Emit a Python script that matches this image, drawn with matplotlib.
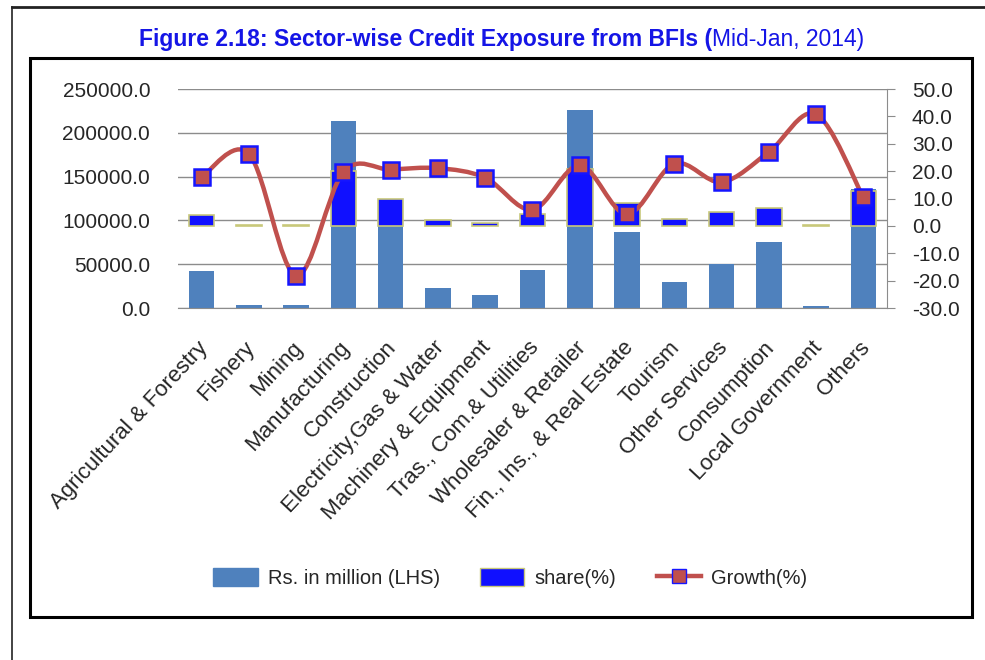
import numpy as np
import matplotlib
matplotlib.use('Agg')
import matplotlib.pyplot as plt
import matplotlib.transforms as mtransforms
from matplotlib.path import Path
from matplotlib.patches import PathPatch, Patch, Rectangle
from matplotlib.lines import Line2D

plt.rcParams['font.family'] = ['Liberation Sans', 'DejaVu Sans']

# data
sectors = ['Agricultural & Forestry', 'Fishery', 'Mining', 'Manufacturing',
           'Construction', 'Electricity,Gas & Water', 'Machinery & Equipment',
           'Tras., Com.& Utilities', 'Wholesaler & Retailer',
           'Fin., Ins., & Real Estate', 'Tourism', 'Other Services',
           'Consumption', 'Local Government', 'Others']
rs_million = [42000, 3800, 3800, 213700, 102000, 22900, 15300, 43100,
              225600, 87000, 29800, 50400, 75600, 1900, 136000]
share = [3.9, 0.35, 0.35, 19.9, 9.7, 2.1, 1.2, 4.3, 20.9, 8.4, 2.7, 4.9,
         6.4, 0.2, 12.9]
growth = [17.8, 26.4, -18.2, 19.7, 20.6, 21.1, 17.6, 5.9, 22.1, 4.3, 22.7,
          16.0, 27.0, 40.8, 10.4]

left_ticks = [0, 50000, 100000, 150000, 200000, 250000]
right_ticks = [-30, -20, -10, 0, 10, 20, 30, 40, 50]

c_rs = '#4f81bd'
c_share = '#1010ff'
c_growth = '#c0504d'
txt = '#262626'
grid_c = '#8c8c8c'

fig = plt.figure(figsize=(9.85, 6.6), dpi=100)
ax = fig.add_axes([0.1807, 0.5333, 0.7198, 0.3318])
ax2 = ax.twinx()

x = np.arange(len(sectors))
ax.bar(x, rs_million, width=0.54, color=c_rs, zorder=2)
ax.set_ylim(0, 250000)
ax.set_xlim(-0.5, len(sectors) - 0.5)
ax.set_yticks(left_ticks)
ax.set_yticklabels(['%.1f' % v for v in left_ticks], fontsize=15, color=txt)
ax.yaxis.grid(True, color=grid_c, lw=1)
ax.set_axisbelow(True)
ax.tick_params(axis='y', length=0, pad=20)
ax.tick_params(axis='x', length=0, pad=21)
ax.set_xticks(x)
ax.set_xticklabels(sectors, rotation=47, ha='right', va='top',
                   rotation_mode='anchor', fontsize=16, color=txt)
shift = mtransforms.ScaledTranslation(-5 / 100, 0, fig.dpi_scale_trans)
for lab in ax.get_xticklabels():
    lab.set_transform(lab.get_transform() + shift)
for s in ['top', 'left', 'right']:
    ax.spines[s].set_visible(False)
ax.spines['bottom'].set_color(grid_c)

# share bars + growth line on the right axis
ax2.bar(x, share, width=0.54, color=c_share, edgecolor='#c8c87a', lw=1.2,
        zorder=2)
ax2.set_ylim(-30, 50)
ax2.set_yticks(right_ticks)
ax2.set_yticklabels(['%.1f' % v for v in right_ticks], fontsize=15, color=txt)
ax2.tick_params(axis='y', length=6, color=grid_c, pad=12, direction='out')
for s in ['top', 'left', 'bottom']:
    ax2.spines[s].set_visible(False)
ax2.spines['right'].set_color(grid_c)

# smoothed line (Bezier through the points, like Excel's smooth line)
pts = np.column_stack([x, growth]).astype(float)
ext = np.vstack([pts[0], pts, pts[-1]])
verts = [tuple(pts[0])]
codes = [Path.MOVETO]
for i in range(len(pts) - 1):
    p0, p1, p2, p3 = ext[i], ext[i + 1], ext[i + 2], ext[i + 3]
    c1 = p1 + (p2 - p0) / 6.0
    c2 = p2 - (p3 - p1) / 6.0
    verts += [tuple(c1), tuple(c2), tuple(p2)]
    codes += [Path.CURVE4] * 3
ax2.add_patch(PathPatch(Path(verts, codes), facecolor='none',
                        edgecolor=c_growth, lw=3.2, zorder=3,
                        capstyle='round'))
ax2.plot(x, growth, linestyle='none', marker='s', markersize=11.5,
         markerfacecolor=c_growth, markeredgecolor='#1515ff',
         markeredgewidth=1.8, zorder=4)

# legend
handles = [Patch(facecolor=c_rs, edgecolor=c_rs),
           Patch(facecolor=c_share, edgecolor='#c8c87a'),
           Line2D([], [], color=c_growth, lw=3.2, marker='s', markersize=10,
                  markerfacecolor=c_growth, markeredgecolor='#1515ff')]
fig.legend(handles, ['Rs. in million (LHS)', 'share(%)', 'Growth(%)'],
           loc='center', bbox_to_anchor=(0.518, 0.124), ncol=3, frameon=False,
           fontsize=14.5, handlelength=2.2, handleheight=1.0,
           columnspacing=2.0, handletextpad=0.5, labelcolor=txt)

# frames
fig.add_artist(Rectangle((30 / 985, 1 - 617 / 660), 942 / 985, 559 / 660,
                         transform=fig.transFigure, fill=False,
                         edgecolor='black', lw=2.2))
fig.add_artist(Line2D([12 / 985, 1], [1 - 7 / 660, 1 - 7 / 660],
                      transform=fig.transFigure, color='#222222', lw=2))
fig.add_artist(Line2D([12 / 985, 12 / 985], [0, 1 - 7 / 660],
                      transform=fig.transFigure, color='#222222', lw=1.2))

# title: bold part + normal part
title_y = 1 - 46 / 660
fig.canvas.draw()
r = fig.canvas.get_renderer()
t1 = fig.text(0, title_y, 'Figure 2.18: Sector-wise Credit Exposure from BFIs (',
              fontsize=16.5, fontweight='bold', color='#1515e6',
              va='baseline')
t2 = fig.text(0, title_y, 'Mid-Jan, 2014)', fontsize=16.5, color='#1515e6',
              va='baseline')
w1 = t1.get_window_extent(r).width
w2 = t2.get_window_extent(r).width
x0 = 501.5 - (w1 + w2) / 2
t1.set_x(x0 / 985)
t2.set_x((x0 + w1) / 985)

fig.savefig('out.png', dpi=100)
